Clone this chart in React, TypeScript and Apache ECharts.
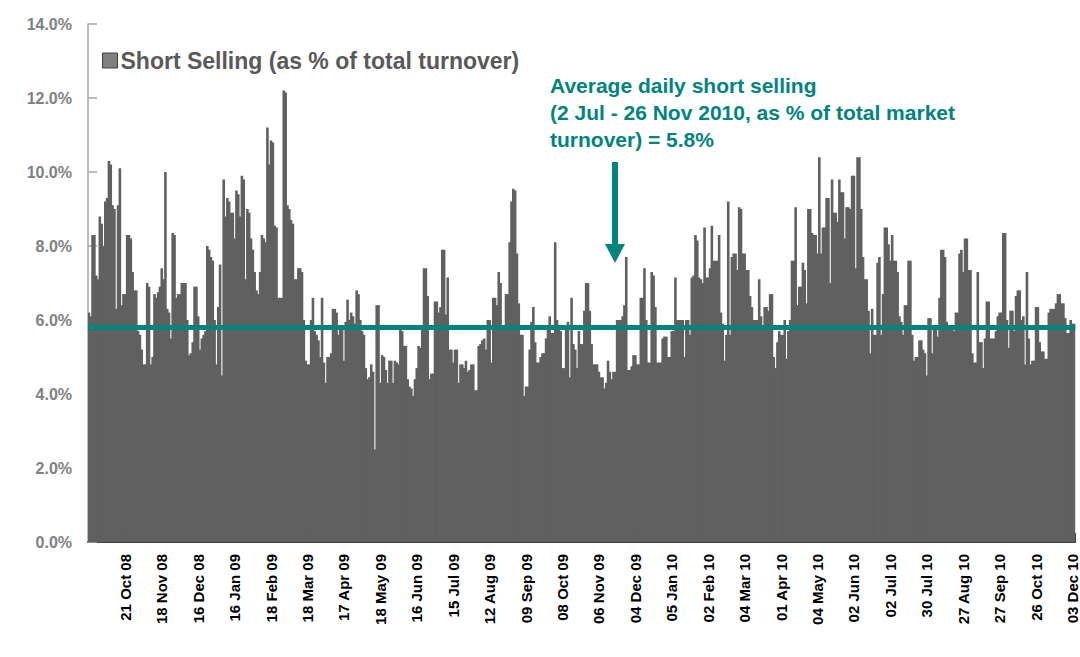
import React, { useEffect, useRef } from "react";
import * as echarts from "echarts";

// Daily short selling, as % of total turnover
const shortSellingSep08ToFeb09 = [
  6.2, 6.1, 8.3, 8.3, 7.2, 7.1, 8.8, 8.6, 8.0, 9.2, 9.3, 10.3, 10.2, 9.1, 9.0, 6.3, 9.1, 10.1, 6.4, 6.7,
  6.7, 8.3, 8.3, 8.2, 7.3, 6.8, 6.8, 5.7, 5.6, 5.2, 4.8, 4.8, 7.0, 6.9, 4.8, 5.0, 6.7, 6.6, 6.75, 6.9,
  7.4, 7.1, 10.0, 6.3, 6.2, 5.5, 8.35, 8.3, 6.6, 6.7, 6.7, 7.0, 7.0, 7.0, 6.0, 5.05, 5.1, 5.4, 6.9, 6.9,
  6.1, 5.2, 5.5, 5.6, 5.7, 8.0, 7.9, 7.7, 7.6, 6.0, 4.8, 6.35, 7.5, 4.5, 9.8, 8.8, 9.3, 9.2, 8.9, 8.9,
  8.2, 9.5, 9.4, 8.8, 9.9, 9.8, 7.1, 9.0, 8.9, 8.2, 7.9, 7.3, 6.8, 6.7, 7.3, 8.3, 8.2, 8.1, 11.2, 10.2,
];
const shortSellingFeb09ToJul09 = [
  10.85, 10.8, 8.55, 8.5, 6.6, 6.6, 6.6, 12.2, 12.15, 9.1, 9.0, 8.7, 8.6, 7.1, 7.1, 7.4, 7.4, 7.3, 6.0, 4.9,
  4.8, 4.8, 6.0, 6.6, 5.7, 5.6, 5.45, 5.0, 6.6, 4.85, 4.3, 5.0, 5.0, 5.1, 6.3, 6.3, 6.2, 5.6, 5.85, 5.8,
  4.9, 5.95, 6.55, 6.0, 6.2, 6.1, 5.9, 6.8, 6.7, 6.0, 5.7, 5.6, 4.7, 4.4, 4.45, 4.8, 4.6, 2.5, 6.4, 6.4,
  4.3, 5.05, 5.0, 4.65, 4.3, 4.9, 4.9, 4.3, 4.9, 4.85, 4.8, 5.75, 5.7, 5.3, 5.3, 4.4, 4.2, 4.15, 3.95, 4.4,
  4.7, 5.3, 5.25, 5.75, 7.4, 7.4, 6.65, 4.4, 4.55, 4.55, 6.5, 6.5, 6.2, 6.35, 7.9, 7.9, 6.15, 7.15, 5.2, 5.2,
];
const shortSellingJul09ToDec09 = [
  4.85, 5.2, 5.2, 4.3, 4.8, 4.8, 4.7, 4.9, 4.6, 4.65, 4.8, 4.8, 4.1, 4.1, 5.3, 5.35, 5.45, 5.5, 5.2, 6.0,
  6.0, 4.85, 6.6, 6.6, 6.4, 7.3, 7.0, 5.8, 5.8, 6.7, 6.7, 8.1, 9.2, 9.55, 9.5, 7.8, 6.45, 5.6, 5.6, 3.95,
  4.2, 4.2, 5.2, 5.95, 6.35, 5.4, 4.85, 4.85, 5.0, 5.1, 5.1, 5.5, 5.75, 6.1, 5.65, 5.65, 8.1, 6.0, 5.75, 5.7,
  4.7, 4.7, 5.8, 5.95, 4.45, 6.6, 5.35, 5.2, 4.7, 5.7, 5.35, 5.35, 6.25, 7.0, 7.0, 6.25, 5.35, 4.8, 4.8, 4.8,
  4.6, 4.45, 4.45, 4.15, 4.3, 4.9, 4.6, 4.4, 4.6, 4.6, 6.0, 6.0, 6.0, 6.1, 6.4, 7.7, 4.65, 4.65, 4.75, 5.05,
];
const shortSellingDec09ToMay10 = [
  5.05, 4.8, 4.8, 6.6, 6.6, 7.4, 6.0, 4.85, 4.85, 7.3, 7.2, 6.35, 4.85, 4.85, 4.85, 5.5, 5.55, 5.55, 5.0, 5.0,
  5.7, 5.7, 7.15, 6.0, 6.0, 6.0, 6.0, 5.0, 6.0, 6.0, 5.6, 7.15, 7.2, 8.3, 8.15, 7.15, 7.1, 7.0, 8.5, 7.15,
  7.15, 7.4, 8.55, 7.6, 7.6, 7.6, 8.3, 6.2, 5.9, 4.9, 5.6, 9.2, 5.6, 7.7, 7.8, 7.8, 7.35, 9.05, 9.0, 7.8,
  7.8, 7.35, 7.35, 6.65, 6.35, 6.0, 6.0, 6.0, 7.1, 6.1, 5.75, 6.35, 6.35, 6.25, 6.7, 6.7, 5.0, 4.7, 5.4, 5.7,
  5.6, 5.6, 6.0, 4.95, 5.7, 6.0, 7.6, 7.6, 9.05, 6.4, 6.9, 6.9, 7.55, 7.35, 6.45, 9.0, 9.0, 8.35, 8.3, 8.3,
];
const shortSellingMay10ToDec10 = [
  7.8, 10.4, 7.8, 8.5, 8.5, 9.3, 9.3, 7.0, 9.8, 8.9, 8.9, 8.65, 9.8, 9.45, 9.45, 8.2, 9.05, 9.05, 9.0, 9.9,
  9.9, 7.4, 10.4, 10.4, 9.0, 7.7, 7.1, 7.1, 6.25, 5.1, 6.3, 5.6, 5.6, 7.55, 7.7, 5.6, 6.7, 8.5, 8.5, 8.05,
  7.6, 8.3, 7.6, 7.6, 7.3, 6.1, 5.95, 5.6, 6.4, 6.4, 7.6, 7.6, 5.6, 4.9, 5.0, 5.0, 5.45, 5.45, 5.2, 5.1,
  4.5, 6.05, 6.05, 5.1, 5.8, 5.8, 5.55, 6.6, 7.9, 7.9, 7.7, 5.95, 5.85, 5.85, 5.85, 5.7, 6.2, 6.2, 7.8, 7.9,
  7.3, 8.2, 8.2, 7.35, 7.35, 5.1, 4.85, 4.85, 7.3, 5.4, 5.4, 4.7, 5.5, 6.5, 6.5, 5.5, 5.5, 5.5, 5.7, 6.1,
  6.2, 6.2, 8.35, 8.35, 6.0, 5.25, 6.25, 6.25, 5.7, 6.65, 6.8, 6.8, 6.0, 6.1, 4.8, 7.3, 5.5, 4.8, 4.9, 4.9,
  6.35, 6.35, 5.4, 5.15, 5.15, 4.95, 4.95, 6.2, 6.3, 6.3, 6.3, 6.45, 6.7, 6.7, 6.45, 6.45, 6.05, 5.65, 5.65, 6.0,
  5.9, 5.9,
];

// Every 20th trading day carries a date label, starting with the 21st day
const tickLabels = [
  "21 Oct 08", "18 Nov 08", "16 Dec 08", "16 Jan 09", "18 Feb 09", "18 Mar 09", "17 Apr 09",
  "18 May 09", "16 Jun 09", "15 Jul 09", "12 Aug 09", "09 Sep 09", "08 Oct 09", "06 Nov 09",
  "04 Dec 09", "05 Jan 10", "02 Feb 10", "04 Mar 10", "01 Apr 10", "04 May 10", "02 Jun 10",
  "02 Jul 10", "30 Jul 10", "27 Aug 10", "27 Sep 10", "26 Oct 10", "03 Dec 10",
];
const LABEL_STEP = 20;
const AVERAGE_SHORT_SELLING = 5.8;
const yTicks = [0, 2, 4, 6, 8, 10, 12, 14];

const TEAL = "#00847e";
const BAR = "#606060";
const FONT = "'Liberation Sans', Arial, Helvetica, sans-serif";

export default function App() {
  const ref = useRef<HTMLDivElement>(null);

  useEffect(() => {
    if (!ref.current) return;
    const chart = echarts.init(ref.current, undefined, { renderer: "svg" });
    const values = [
      ...shortSellingSep08ToFeb09,
      ...shortSellingFeb09ToJul09,
      ...shortSellingJul09ToDec09,
      ...shortSellingDec09ToMay10,
      ...shortSellingMay10ToDec10,
    ];
    const categories = values.map((_, i) => String(i));
    const isLabelled = (i: number) => i >= LABEL_STEP && i % LABEL_STEP === 0;

    chart.setOption({
      animation: false,
      backgroundColor: "#ffffff",
      textStyle: { fontFamily: FONT },
      grid: { left: 88, right: 4, top: 24, bottom: 115, containLabel: false },
      legend: {
        show: true,
        left: 97,
        top: 44,
        icon: "rect",
        itemWidth: 15,
        itemHeight: 15,
        itemGap: 10,
        itemStyle: { borderColor: "#404040", borderWidth: 1, color: "#808080" },
        textStyle: { fontFamily: FONT, fontSize: 23, fontWeight: "bold", color: "#595959", padding: [0, 0, 0, -2] },
        data: ["Short Selling (as % of total turnover)"],
      },
      xAxis: {
        type: "category",
        data: categories,
        boundaryGap: true,
        axisLine: { show: true, lineStyle: { color: "#000000", width: 1.5 } },
        axisTick: {
          show: true,
          inside: true,
          length: 9,
          interval: (i: number) => isLabelled(i),
          lineStyle: { color: "#000000", width: 1.5 },
        },
        axisLabel: {
          interval: (i: number) => isLabelled(i),
          rotate: 90,
          margin: 12,
          fontFamily: FONT,
          fontSize: 15,
          fontWeight: "bold",
          color: "#000000",
          formatter: (_v: string, i: number) =>
            isLabelled(i) ? tickLabels[i / LABEL_STEP - 1] ?? "" : "",
        },
        splitLine: { show: false },
      },
      yAxis: {
        type: "value",
        min: yTicks[0],
        max: yTicks[yTicks.length - 1],
        interval: 2,
        axisLine: { show: true, lineStyle: { color: "#a6a6a6", width: 1.5 } },
        axisTick: { show: true, inside: true, length: 9, lineStyle: { color: "#a6a6a6", width: 1.5 } },
        axisLabel: {
          margin: 16,
          fontFamily: FONT,
          fontSize: 16,
          fontWeight: "bold",
          color: "#808080",
          formatter: (v: number) => v.toFixed(1) + "%",
        },
        splitLine: { show: false },
      },
      series: [
        {
          name: "Short Selling (as % of total turnover)",
          type: "bar",
          data: values,
          barWidth: 2.6,
          barGap: "0%",
          itemStyle: { color: BAR },
          markLine: {
            silent: true,
            symbol: "none",
            label: { show: false },
            lineStyle: { color: TEAL, width: 5, type: "solid" },
            data: [{ yAxis: AVERAGE_SHORT_SELLING }],
          },
        },
      ],
      graphic: [
        {
          type: "text",
          left: 550,
          top: 72,
          style: {
            text:
              "Average daily short selling\n(2 Jul - 26 Nov 2010, as % of total market\nturnover) = 5.8%",
            fill: TEAL,
            font: `bold 21px ${FONT}`,
            lineHeight: 27,
          },
        },
        {
          type: "rect",
          shape: { x: 612, y: 162, width: 6, height: 84 },
          style: { fill: TEAL },
        },
        {
          type: "polygon",
          shape: { points: [[605, 244], [625, 244], [615, 263]] },
          style: { fill: TEAL },
        },
      ],
    });
    return () => chart.dispose();
  }, []);

  return (
    <div
      ref={ref}
      style={{ position: "fixed", left: 0, top: 0, width: 1080, height: 657, background: "#fff" }}
    />
  );
}
